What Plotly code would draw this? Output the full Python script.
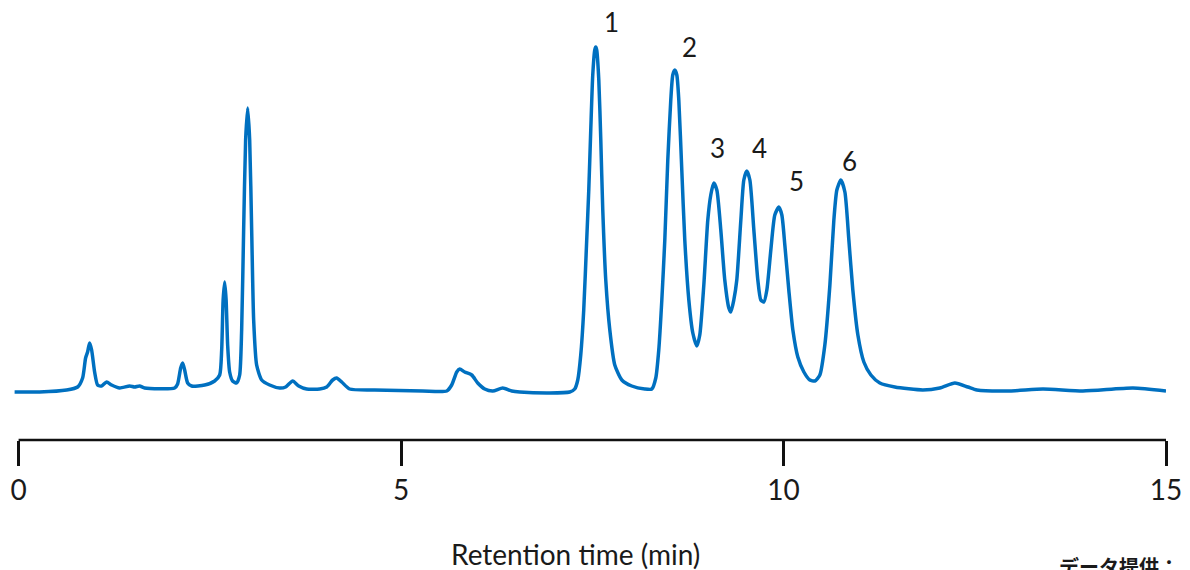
import plotly.graph_objects as go

# Chromatogram trace (retention time in min, detector signal in arbitrary units)
time_min = [
    -0.052, 0.275, 0.628, 0.772, 0.837, 0.876, 0.902, 0.928, 0.955, 0.994,
    1.033, 1.085, 1.151, 1.216, 1.321, 1.452, 1.517, 1.582, 1.648, 2.040,
    2.079, 2.119, 2.145, 2.171, 2.210, 2.262, 2.432, 2.563, 2.629, 2.655,
    2.674, 2.694, 2.713, 2.733, 2.759, 2.798, 2.851, 2.890, 2.916, 2.942,
    2.968, 2.995, 3.021, 3.047, 3.073, 3.112, 3.178, 3.282, 3.413, 3.491,
    3.583, 3.662, 3.766, 3.936, 4.028, 4.106, 4.158, 4.224, 4.328, 4.655,
    5.283, 5.597, 5.662, 5.728, 5.767, 5.832, 5.924, 6.002, 6.094, 6.199,
    6.330, 6.447, 6.552, 6.944, 7.205, 7.270, 7.310, 7.349, 7.388, 7.427,
    7.454, 7.480, 7.506, 7.532, 7.545, 7.558, 7.585, 7.611, 7.637, 7.676,
    7.729, 7.794, 7.886, 8.016, 8.186, 8.278, 8.330, 8.369, 8.409, 8.448,
    8.487, 8.526, 8.552, 8.579, 8.605, 8.631, 8.670, 8.709, 8.762, 8.814,
    8.866, 8.905, 8.958, 9.010, 9.049, 9.088, 9.128, 9.180, 9.232, 9.285,
    9.311, 9.350, 9.389, 9.442, 9.481, 9.520, 9.560, 9.612, 9.664, 9.703,
    9.743, 9.782, 9.834, 9.886, 9.939, 9.978, 10.017, 10.069, 10.122, 10.187,
    10.266, 10.344, 10.409, 10.475, 10.540, 10.606, 10.658, 10.697, 10.749, 10.802,
    10.854, 10.906, 10.972, 11.050, 11.142, 11.259, 11.455, 11.821, 12.044, 12.240,
    12.410, 12.528, 12.959, 13.391, 13.914, 14.568, 15.000,
]
signal = [
    0, 0, 2, 5, 14, 34, 40, 49, 42, 20,
    7, 6, 10, 7, 4, 6, 5, 6, 4, 4,
    8, 24, 29, 22, 9, 6, 7, 11, 17, 42,
    92, 110, 92, 47, 20, 11, 9, 17, 62, 162,
    252, 284, 252, 162, 72, 27, 12, 7, 4, 5,
    11, 6, 3, 3, 5, 12, 14, 10, 3, 2,
    1, 1, 7, 20, 23, 20, 17, 9, 3, 1,
    4, 1, 0, -1, 0, 3, 12, 37, 82, 152,
    202, 262, 317, 342, 345, 342, 312, 252, 182, 112,
    62, 27, 12, 6, 3, 3, 14, 42, 92, 152,
    232, 292, 317, 322, 317, 292, 222, 152, 92, 59,
    46, 57, 107, 172, 197, 209, 202, 162, 112, 84,
    80, 92, 112, 172, 212, 221, 212, 162, 112, 92,
    90, 102, 142, 177, 185, 177, 147, 102, 62, 35,
    20, 12, 11, 17, 47, 107, 172, 202, 212, 200,
    152, 102, 57, 30, 17, 9, 5, 2, 4, 9,
    5, 2, 1, 3, 1, 4, 1,
]

# Peak labels
peak_names = ["1", "2", "3", "4", "5", "6"]
peak_label_time = [7.755, 8.775, 9.141, 9.690, 10.174, 10.867]
peak_label_signal = [370, 345, 244, 244, 211, 231]

tick_values = [0, 5, 10, 15]
tick_text = ["0", "5", "10", "15"]

x_title = "Retention time (min)"
credit_text = "データ提供："

FONT = "Lato, 'Noto Sans', sans-serif"
TEXT_COLOR = "#1a1a1a"

fig = go.Figure()
fig.add_trace(go.Scatter(
    x=time_min, y=signal, mode="lines",
    line=dict(color="#0070C0", width=3.5, shape="spline", smoothing=0.6),
    hoverinfo="skip", showlegend=False,
))

for name, tx, ty in zip(peak_names, peak_label_time, peak_label_signal):
    fig.add_annotation(x=tx, y=ty, xref="x", yref="y", text=name, showarrow=False,
                       font=dict(family=FONT, size=26, color=TEXT_COLOR))

fig.add_annotation(x=0.487, y=-0.2590, xref="paper", yref="paper", text=x_title,
                   showarrow=False, xanchor="center", yanchor="middle",
                   font=dict(family=FONT, size=28, color=TEXT_COLOR))
fig.add_annotation(x=0.905, y=-0.2500, xref="paper", yref="paper", text="<b>" + credit_text + "</b>",
                   showarrow=False, xanchor="left", yanchor="top",
                   font=dict(family="'Noto Sans CJK JP', sans-serif", size=20, color=TEXT_COLOR))

# axis baseline from 0 to 15
fig.add_shape(type="line", xref="x", yref="paper", x0=tick_values[0], x1=tick_values[-1],
              y0=0, y1=0, line=dict(color="#111111", width=2.5))

fig.update_layout(
    width=1190, height=570,
    margin=dict(l=14, r=24, t=0, b=130),
    paper_bgcolor="white", plot_bgcolor="white",
    xaxis=dict(range=[-0.06, 15.0], tickvals=tick_values, ticktext=tick_text,
               ticks="outside", ticklen=25, tickwidth=2.5, tickcolor="#111111",
               showgrid=False, zeroline=False, showline=False,
               tickfont=dict(family=FONT, size=28, color=TEXT_COLOR)),
    yaxis=dict(range=[-48, 392], visible=False, showgrid=False, zeroline=False),
)

fig.write_html("out.html", config={"displayModeBar": False},
               post_script="document.body.style.margin='0';document.body.style.overflow='hidden';")
